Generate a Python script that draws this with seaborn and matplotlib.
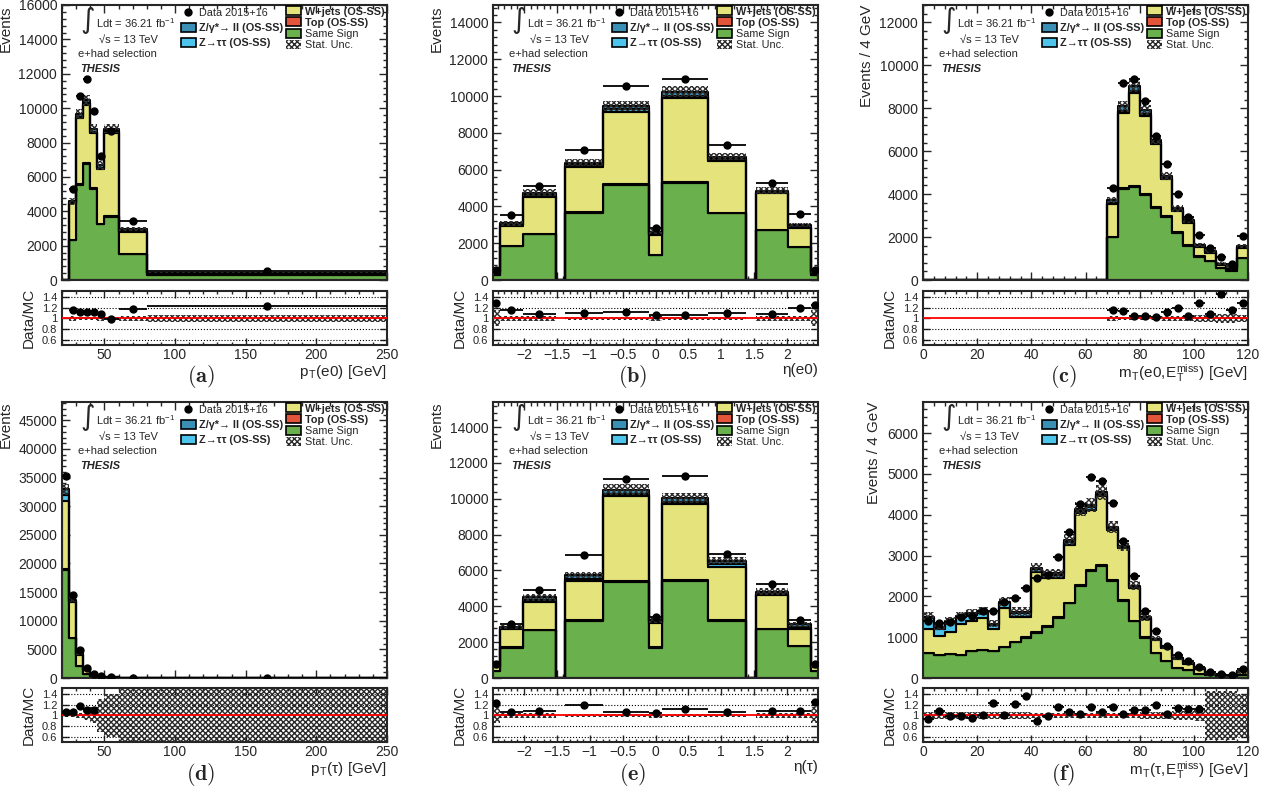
import numpy as np
import pandas as pd
import matplotlib
matplotlib.use("Agg")
import matplotlib.pyplot as plt
from matplotlib.ticker import MultipleLocator, AutoMinorLocator, FixedLocator, FuncFormatter
from matplotlib.patches import Patch
from matplotlib.lines import Line2D
import seaborn as sns

# ---------------- data ----------------
# (a) pT(e0)
A_EDGES = [20, 25, 30, 35, 40, 45, 50, 60, 80, 250]
A_SS = [0, 2330, 5550, 6750, 5310, 3250, 3660, 1520, 270]
A_TOP = [0, 25, 50, 60, 50, 30, 35, 15, 5]
A_WJ = [0, 2100, 3830, 3380, 3190, 3190, 4860, 1270, 110]
A_ZTT = [0, 45, 80, 90, 85, 70, 90, 50, 10]
A_ZLL = [0, 70, 130, 165, 160, 125, 155, 95, 20]
A_DATA = [0, 5300, 10700, 11700, 9850, 7200, 8650, 3450, 510]
A_UNC = [0, 0.04, 0.03, 0.03, 0.03, 0.04, 0.03, 0.04, 0.07]

# (b) eta(e0)
B_EDGES = [-2.47, -2.37, -2.01, -1.52, -1.37, -0.8, -0.1, 0.1, 0.8, 1.37, 1.52, 2.01, 2.37, 2.47]
B_SS = [250, 1850, 2500, 0, 3660, 5170, 1360, 5260, 3630, 0, 2720, 1780, 250]
B_TOP = [5, 20, 25, 0, 35, 50, 15, 50, 35, 0, 25, 20, 5]
B_WJ = [150, 1090, 2010, 0, 2470, 3940, 1070, 4570, 2810, 0, 1970, 1050, 150]
B_ZTT = [15, 50, 80, 0, 80, 110, 70, 130, 90, 0, 55, 50, 15]
B_ZLL = [20, 75, 135, 0, 140, 200, 110, 235, 145, 0, 90, 75, 20]
B_DATA = [570, 3540, 5130, 0, 7055, 10550, 2810, 10920, 7345, 0, 5280, 3570, 550]
B_UNC = [0.15, 0.04, 0.04, 0, 0.03, 0.03, 0.05, 0.03, 0.03, 0, 0.04, 0.04, 0.15]

# (c) mT(e0, MET)
C_EDGES = list(range(0, 124, 4))
C_SS = [0] * 17 + [1990, 4230, 4320, 3960, 3340, 2920, 2180, 1590, 1090, 890, 560, 440, 1010]
C_TOP = [0] * 17 + [30, 60, 70, 60, 55, 45, 35, 25, 20, 15, 10, 8, 15]
C_WJ = [0] * 17 + [1520, 3480, 4310, 3600, 2950, 1745, 1000, 1060, 440, 370, 130, 130, 455]
C_ZTT = [0] * 17 + [60, 100, 110, 100, 60, 45, 40, 40, 25, 30, 15, 18, 40]
C_ZLL = [0] * 17 + [125, 210, 230, 210, 125, 95, 85, 85, 55, 65, 35, 37, 80]
C_DATA = [0] * 17 + [4300, 9170, 9370, 8350, 6720, 5390, 4010, 2950, 2100, 1480, 1090, 730, 2050]
C_UNC = [0] * 17 + [0.04, 0.03, 0.03, 0.03, 0.03, 0.04, 0.05, 0.05, 0.06, 0.07, 0.09, 0.09, 0.06]

# (d) pT(tau)
D_EDGES = [20, 25, 30, 35, 40, 45, 50, 60, 80, 250]
D_SS = [18880, 6900, 2100, 760, 350, 170, 80, 20, 5]
D_TOP = [150, 60, 20, 8, 4, 2, 1, 0, 0]
D_WJ = [11945, 6250, 1970, 750, 180, 110, 60, 18, 4]
D_ZTT = [900, 200, 50, 30, 10, 8, 4, 1, 0]
D_ZLL = [1060, 266, 69, 44, 16, 10, 5, 1, 1]
D_DATA = [35240, 14490, 4970, 1750, 620, 330, 170, 50, 12]
D_UNC = [0.03, 0.03, 0.05, 0.08, 0.15, 0.3, 0.4, 0.6, 0.6]

# (e) eta(tau)
E_EDGES = B_EDGES
E_SS = [380, 1700, 2670, 0, 3190, 5340, 1700, 5410, 3190, 0, 2725, 1770, 370]
E_TOP = [5, 20, 30, 0, 35, 55, 15, 55, 35, 0, 30, 20, 5]
E_WJ = [220, 987, 1520, 0, 2190, 4740, 1330, 4240, 2990, 0, 1875, 960, 215]
E_ZTT = [20, 60, 110, 0, 130, 150, 80, 135, 125, 0, 75, 95, 20]
E_ZLL = [25, 90, 170, 0, 205, 225, 125, 200, 190, 0, 110, 145, 30]
E_DATA = [800, 3040, 4910, 0, 6850, 11110, 3420, 11260, 6925, 0, 5230, 3230, 800]
E_UNC = [0.15, 0.04, 0.04, 0, 0.03, 0.03, 0.05, 0.03, 0.03, 0, 0.04, 0.04, 0.15]

# (f) mT(tau, MET)
F_EDGES = list(range(0, 124, 4))
F_SS = [614, 557, 581, 557, 655, 679, 655, 761, 884, 982, 1113, 1252, 1473, 1825, 2259,
        2627, 2750, 2374, 1891, 1391, 982, 614, 417, 246, 188, 106, 65, 41, 25, 82]
F_TOP = [6, 6, 6, 6, 7, 7, 7, 8, 9, 10, 11, 13, 15, 18, 23,
         26, 28, 24, 19, 14, 10, 6, 4, 2, 2, 1, 1, 0, 0, 1]
F_WJ = [591, 468, 543, 771, 729, 787, 549, 934, 605, 506, 1479, 1191, 968, 1415, 1753,
        1464, 1691, 1228, 1266, 789, 465, 305, 324, 227, 162, 113, 34, 19, 20, 77]
F_ZTT = [262, 180, 220, 161, 159, 131, 82, 122, 82, 82, 65, 65, 65, 82, 66,
         82, 41, 41, 41, 41, 23, 25, 10, 10, 10, 12, 4, 3, 2, 8]
F_ZLL = [27, 41, 41, 35, 35, 33, 41, 41, 41, 41, 33, 41, 41, 41, 41,
         41, 41, 41, 24, 24, 18, 16, 6, 6, 6, 8, 2, 2, 2, 4]
F_DATA = [1390, 1350, 1375, 1500, 1520, 1640, 1640, 1865, 1965, 2195, 2440, 2520, 2970, 3585, 4265,
          4935, 4815, 4280, 3355, 2495, 1640, 1155, 785, 555, 410, 270, 147, 106, 82, 229]
F_UNC = [0.07, 0.07, 0.07, 0.06, 0.06, 0.06, 0.07, 0.06, 0.07, 0.07, 0.04, 0.04, 0.04, 0.04, 0.04,
         0.04, 0.04, 0.04, 0.04, 0.05, 0.06, 0.07, 0.07, 0.08, 0.09, 0.10, 0.45, 0.45, 0.45, 0.40]

PANEL_TAGS = ["(a)", "(b)", "(c)", "(d)", "(e)", "(f)"]
XLABELS = [r"p$_{\mathregular{T}}$(e0) [GeV]", "η(e0)",
           r"m$_{\mathregular{T}}$(e0,E$_{\mathregular{T}}^{\mathregular{miss}}$) [GeV]",
           r"p$_{\mathregular{T}}$(τ) [GeV]", "η(τ)",
           r"m$_{\mathregular{T}}$(τ,E$_{\mathregular{T}}^{\mathregular{miss}}$) [GeV]"]
YLABELS = ["Events", "Events", "Events / 4 GeV", "Events", "Events", "Events / 4 GeV"]
YMAX = [16000, 14950, 12800, 48200, 15400, 6760]
YSTEP = [2000, 2000, 2000, 5000, 2000, 1000]
XLIM = [(20, 250), (-2.47, 2.47), (0, 120), (20, 250), (-2.47, 2.47), (0, 120)]
XSTEP = [50, 0.5, 20, 50, 0.5, 20]
RATIO_TICKS = [0.6, 0.8, 1.0, 1.2, 1.4]
RATIO_TICKLABELS = ["0.6", "0.8", "1", "1.2", "1.4"]

LABELS = ["Z/γ*→ ll (OS-SS)", "Z→ττ (OS-SS)", "W+jets (OS-SS)", "Top (OS-SS)", "Same Sign"]
COLORS = {"Z/γ*→ ll (OS-SS)": "#3a90b4", "Z→ττ (OS-SS)": "#4cc4ec",
          "W+jets (OS-SS)": "#e4e37c", "Top (OS-SS)": "#e2553a", "Same Sign": "#6ab04c"}
HATCH_COLOR = "#2a2a2a"
HATCH = "xxxxxx"

PANELS = [
    (A_EDGES, [A_ZLL, A_ZTT, A_WJ, A_TOP, A_SS], A_DATA, A_UNC),
    (B_EDGES, [B_ZLL, B_ZTT, B_WJ, B_TOP, B_SS], B_DATA, B_UNC),
    (C_EDGES, [C_ZLL, C_ZTT, C_WJ, C_TOP, C_SS], C_DATA, C_UNC),
    (D_EDGES, [D_ZLL, D_ZTT, D_WJ, D_TOP, D_SS], D_DATA, D_UNC),
    (E_EDGES, [E_ZLL, E_ZTT, E_WJ, E_TOP, E_SS], E_DATA, E_UNC),
    (F_EDGES, [F_ZLL, F_ZTT, F_WJ, F_TOP, F_SS], F_DATA, F_UNC),
]

# ---------------- style ----------------
sns.set_style("ticks")
plt.rcParams["font.family"] = ["Liberation Sans", "DejaVu Sans"]
plt.rcParams["mathtext.fontset"] = "cm"
plt.rcParams["hatch.linewidth"] = 1.0
plt.rcParams["axes.linewidth"] = 1.5

FIG_W, FIG_H = 1273, 789
COL_LEFT = [62, 493, 923]
AX_W = 325
ROW_PX = [(5, 280, 291, 345), (402, 678, 688, 742)]
TAG_POS = [(201, 376), (633, 376), (1063, 376), (201, 775), (633, 775), (1063, 775)]


def box(left, top, bottom):
    return [left / FIG_W, 1 - bottom / FIG_H, AX_W / FIG_W, (bottom - top) / FIG_H]


def eta_fmt(v, pos):
    return f"{v:g}".replace("-", "\u2212")


fig = plt.figure(figsize=(FIG_W / 100, FIG_H / 100), dpi=100)

for i, (edges, comps, data, unc) in enumerate(PANELS):
    row, col = divmod(i, 3)
    mt, mb, rt, rb = ROW_PX[row]
    ax = fig.add_axes(box(COL_LEFT[col], mt, mb))
    rax = fig.add_axes(box(COL_LEFT[col], rt, rb))

    edges = np.asarray(edges, dtype=float)
    centers = 0.5 * (edges[:-1] + edges[1:])
    halfw = 0.5 * np.diff(edges)
    comps = [np.asarray(c, dtype=float) for c in comps]
    data = np.asarray(data, dtype=float)
    unc = np.asarray(unc, dtype=float)
    total = np.sum(comps, axis=0)

    # stacked backgrounds (first hue level ends up on top of the stack)
    df = pd.concat([pd.DataFrame({"x": centers, "w": c, "comp": name})
                    for name, c in zip(LABELS, comps)], ignore_index=True)
    sns.histplot(data=df, x="x", weights="w", hue="comp", hue_order=LABELS,
                 palette=COLORS, bins=edges.tolist(), multiple="stack", element="step",
                 fill=True, alpha=1, linewidth=1.5, edgecolor="black",
                 legend=False, ax=ax)

    # stat. uncertainty band
    ax.stairs(total * (1 + unc), edges, baseline=total * (1 - unc), fill=True,
              hatch=HATCH, facecolor="none", edgecolor=HATCH_COLOR, linewidth=0, zorder=3)

    m = data > 0
    ax.errorbar(centers[m], data[m], xerr=halfw[m], yerr=np.sqrt(data[m]), fmt="o",
                color="black", ms=5, lw=1.3, capsize=0, zorder=5)

    ax.set_xlim(*XLIM[i])
    ax.set_ylim(0, YMAX[i])
    ax.set_xlabel("")
    ax.set_ylabel(YLABELS[i], loc="top", fontsize=11)
    ax.yaxis.set_major_locator(MultipleLocator(YSTEP[i]))
    ax.yaxis.set_minor_locator(AutoMinorLocator(5))
    ax.xaxis.set_major_locator(MultipleLocator(XSTEP[i]))
    ax.xaxis.set_minor_locator(AutoMinorLocator(5))
    ax.tick_params(which="both", direction="in", top=True, right=True, labelbottom=False,
                   labelsize=10, width=1)
    ax.tick_params(which="major", length=6)
    ax.tick_params(which="minor", length=3)

    # annotations
    ax.text(0.08, 0.945, "∫", transform=ax.transAxes, fontsize=20, ha="center", va="center",
            family=["DejaVu Sans"])
    ax.text(0.105, 0.933, r"Ldt = 36.21 fb$^{\mathregular{-1}}$", transform=ax.transAxes,
            fontsize=8, va="center")
    ax.text(0.115, 0.873, "√s = 13 TeV", transform=ax.transAxes, fontsize=8, va="center")
    ax.text(0.048, 0.822, "e+had selection", transform=ax.transAxes, fontsize=8, va="center")
    ax.text(0.055, 0.768, "THESIS", transform=ax.transAxes, fontsize=8, va="center",
            fontweight="bold", fontstyle="italic")

    # legends
    h1 = [Line2D([], [], marker="o", color="black", ls="none", ms=5),
          Patch(facecolor=COLORS[LABELS[0]], edgecolor="black", lw=1.2),
          Patch(facecolor=COLORS[LABELS[1]], edgecolor="black", lw=1.2)]
    leg1 = ax.legend(h1, ["Data 2015+16", LABELS[0], LABELS[1]], loc="upper left",
                     bbox_to_anchor=(0.365, 0.99), frameon=False, fontsize=7.8,
                     handlelength=1.4, handleheight=1.0, handletextpad=0.3,
                     labelspacing=0.4, borderpad=0, borderaxespad=0)
    for t in leg1.get_texts()[1:]:
        t.set_fontweight("bold")
    ax.add_artist(leg1)
    h2 = [Patch(facecolor=COLORS[LABELS[2]], edgecolor="black", lw=1.2),
          Patch(facecolor=COLORS[LABELS[3]], edgecolor="black", lw=1.2),
          Patch(facecolor=COLORS[LABELS[4]], edgecolor="black", lw=1.2),
          Patch(facecolor="white", edgecolor=HATCH_COLOR, hatch=HATCH, lw=0)]
    leg2 = ax.legend(h2, [LABELS[2], LABELS[3], LABELS[4], "Stat. Unc."], loc="upper left",
                     bbox_to_anchor=(0.69, 0.995), frameon=False, fontsize=7.8,
                     handlelength=1.4, handleheight=0.9, handletextpad=0.3,
                     labelspacing=0.08, borderpad=0, borderaxespad=0)
    for t in leg2.get_texts()[:2]:
        t.set_fontweight("bold")

    # ratio panel
    rax.stairs(1 + unc, edges, baseline=1 - unc, fill=True, hatch=HATCH,
               facecolor="none", edgecolor=HATCH_COLOR, linewidth=0, zorder=2)
    for v in RATIO_TICKS:
        if v != 1.0:
            rax.axhline(v, color="black", ls=":", lw=0.8, zorder=1)
    rax.axhline(1.0, color="red", lw=1.3, zorder=3)
    mr = (total > 0) & (data > 0) & (unc < 0.2)
    ratio = data[mr] / total[mr]
    rax.errorbar(centers[mr], ratio, xerr=halfw[mr], yerr=np.sqrt(data[mr]) / total[mr],
                 fmt="o", color="black", ms=5, lw=1.3, capsize=0, zorder=5)
    rax.set_xlim(*XLIM[i])
    rax.set_ylim(0.505, 1.51)
    rax.yaxis.set_major_locator(FixedLocator(RATIO_TICKS))
    rax.set_yticklabels(RATIO_TICKLABELS)
    rax.xaxis.set_major_locator(MultipleLocator(XSTEP[i]))
    rax.xaxis.set_minor_locator(AutoMinorLocator(5))
    if XSTEP[i] < 1:
        rax.xaxis.set_major_formatter(FuncFormatter(eta_fmt))
    rax.tick_params(which="both", direction="in", top=True, right=True, width=1)
    rax.tick_params(axis="y", labelsize=8, length=5)
    rax.tick_params(axis="x", which="major", labelsize=10, length=5, pad=2)
    rax.tick_params(axis="x", which="minor", length=2.5)
    rax.set_ylabel("Data/MC", fontsize=11)
    rax.set_xlabel(XLABELS[i], loc="right", fontsize=11, labelpad=1)

    fig.text(TAG_POS[i][0] / FIG_W, 1 - TAG_POS[i][1] / FIG_H, r"$\mathbf{" + PANEL_TAGS[i] + "}$",
             fontsize=16, ha="center", va="center")

fig.savefig("out.png", dpi=100)
